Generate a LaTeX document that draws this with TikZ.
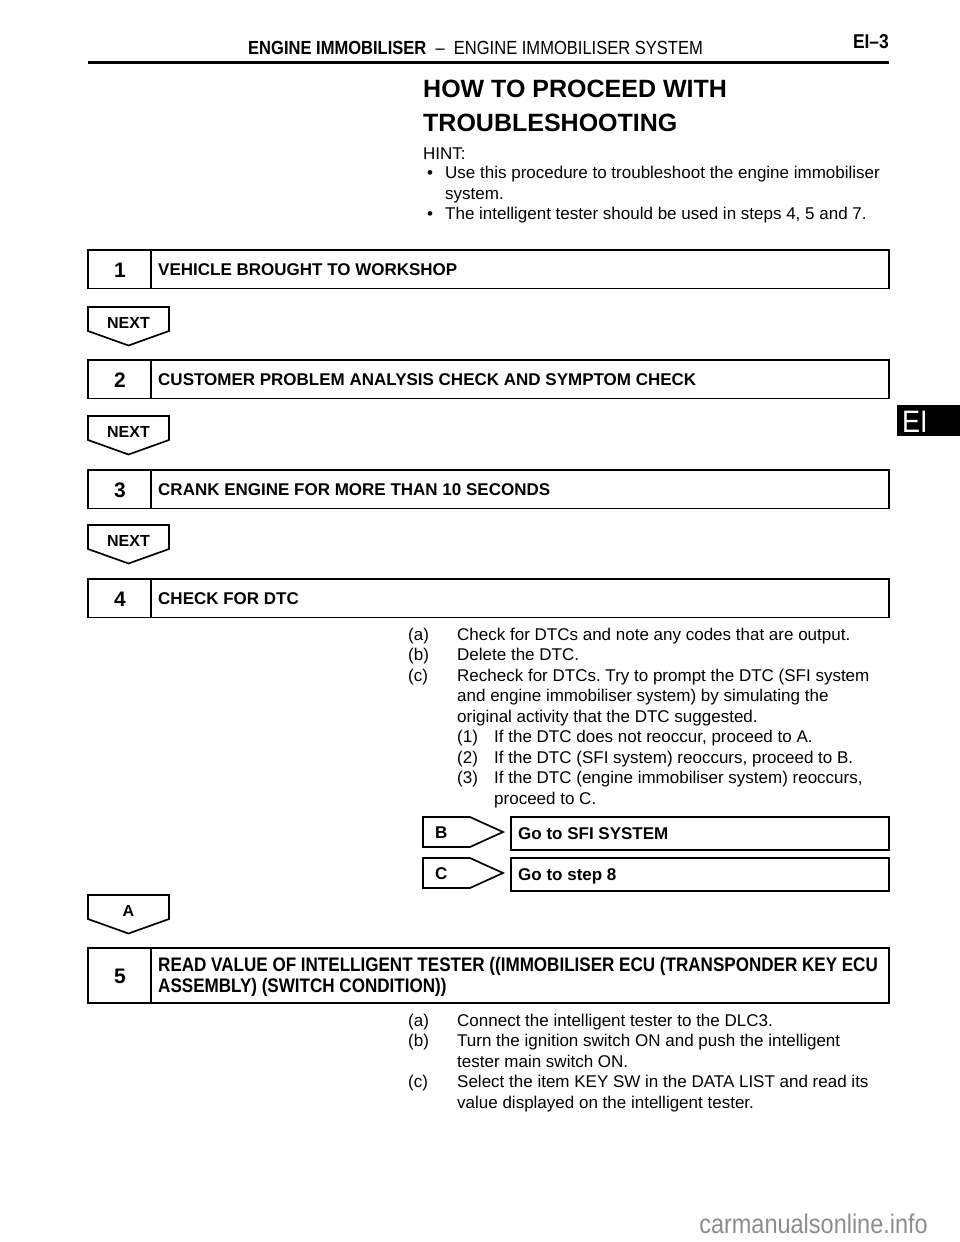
\documentclass[tikz,border=0pt]{standalone}
\usepackage{fontspec}
\setmainfont{Liberation Sans}
\newfontfamily\narrowfont[FakeStretch=0.87]{Liberation Sans}
\frenchspacing

\tikzset{
    frame/.style = {line width=1.7pt},
    body/.style = {anchor=base west, inner sep=0pt, font=\fontsize{17}{20.5}\selectfont},
    boxtext/.style = {anchor=base west, inner sep=0pt, font=\bfseries\fontsize{17}{20.5}\selectfont},
    widetext/.style = {anchor=base west, inner sep=0pt, font=\narrowfont\bfseries\fontsize{19.6}{21}\selectfont},
    stepnum/.style = {anchor=base, inner sep=0pt, font=\bfseries\fontsize{21}{24}\selectfont},
    nexttext/.style = {anchor=base, inner sep=0pt, font=\bfseries\fontsize{16}{18}\selectfont},
}

\begin{document}
\begin{tikzpicture}[x=1pt, y=-1pt]
    \useasboundingbox (0,0) rectangle (960,1242);

    % page header
    \draw[line width=3pt] (88,62) -- (889,62);
    \node[anchor=base west, inner sep=0pt, font=\narrowfont\fontsize{19}{21}\selectfont] (head) at (248,54)
        {\textbf{ENGINE IMMOBILISER} \ – \ ENGINE IMMOBILISER SYSTEM};
    \node[anchor=base east, inner sep=0pt, font=\narrowfont\bfseries\fontsize{20}{22}\selectfont] (pagenum) at (889,48) {EI–3};

    % side tab
    \fill (897,405) rectangle (960,436);
    \node[anchor=base west, inner sep=0pt, text=white, font=\narrowfont\fontsize{31}{32}\selectfont] (tab) at (902,432) {EI};

    % title and hint
    \node[anchor=base west, inner sep=0pt, font=\bfseries\fontsize{25}{30}\selectfont] (title1) at (423,97) {HOW TO PROCEED WITH};
    \node[anchor=base west, inner sep=0pt, font=\bfseries\fontsize{25}{30}\selectfont] (title2) at (423,131) {TROUBLESHOOTING};
    \node[body] (hint) at (423,159) {HINT:};
    \foreach \b/\t [count=\k] in {•/{Use this procedure to troubleshoot the engine immobiliser}, {}/{system.}, •/{The intelligent tester should be used in steps 4, 5 and 7.}}
    {
        \node[body] (bul\k) at (427,158+20.5*\k) {\b};
        \node[body] (hint\k) at (445,158+20.5*\k) {\t};
    }

    % steps 1 to 4
    \foreach \n/\y/\t in {1/250/{VEHICLE BROUGHT TO WORKSHOP}, 2/360/{CUSTOMER PROBLEM ANALYSIS CHECK AND SYMPTOM CHECK}, 3/470/{CRANK ENGINE FOR MORE THAN 10 SECONDS}, 4/579/{CHECK FOR DTC}}
    {
        \draw[frame] (88,\y) rectangle (889,\y+38.5);
        \draw[frame] (151,\y) -- (151,\y+38.5);
        \node[stepnum] (num\n) at (120,\y+27) {\n};
        \node[boxtext] (step\n) at (158,\y+25.5) {\t};
    }

    % NEXT and A arrows
    \foreach \y/\l [count=\k] in {307/NEXT, 416/NEXT, 525/NEXT, 895/A}
    {
        \draw[frame] (88,\y) -- (169,\y) -- (169,\y+24) -- (128.5,\y+38.5) -- (88,\y+24) -- cycle;
        \node[nexttext] (next\k) at (128.5,\y+21) {\l};
    }

    % step 4 text
    \foreach \lx/\lab/\x/\t [count=\k] in {
        408/(a)/457/{Check for DTCs and note any codes that are output.},
        408/(b)/457/{Delete the DTC.},
        408/(c)/457/{Recheck for DTCs. Try to prompt the DTC (SFI system},
        408/{}/457/{and engine immobiliser system) by simulating the},
        408/{}/457/{original activity that the DTC suggested.},
        457/(1)/494/{If the DTC does not reoccur, proceed to A.},
        457/(2)/494/{If the DTC (SFI system) reoccurs, proceed to B.},
        457/(3)/494/{If the DTC (engine immobiliser system) reoccurs,},
        457/{}/494/{proceed to C.}}
    {
        \node[body] (dtclab\k) at (\lx,619.5+20.5*\k) {\lab};
        \node[body] (dtc\k) at (\x,619.5+20.5*\k) {\t};
    }

    % B and C branches
    \foreach \l/\y/\t in {B/817/{Go to SFI SYSTEM}, C/858/{Go to step 8}}
    {
        \draw[frame] (423,\y) -- (470,\y) -- (503,\y+15) -- (470,\y+30) -- (423,\y+30) -- cycle;
        \node[boxtext] (res\l) at (435,\y+21) {\l};
        \draw[frame] (511,\y) rectangle (889,\y+33);
        \node[boxtext] (go\l) at (518,\y+22.5) {\t};
    }

    % step 5
    \draw[frame] (88,948) rectangle (889,1003);
    \draw[frame] (151,948) -- (151,1003);
    \node[stepnum] (num5) at (120,983) {5};
    \node[widetext] (step5a) at (158,971) {READ VALUE OF INTELLIGENT TESTER ((IMMOBILISER ECU (TRANSPONDER KEY ECU};
    \node[widetext] (step5b) at (158,992) {ASSEMBLY) (SWITCH CONDITION))};

    \foreach \lab/\t [count=\k] in {
        (a)/{Connect the intelligent tester to the DLC3.},
        (b)/{Turn the ignition switch ON and push the intelligent},
        {}/{tester main switch ON.},
        (c)/{Select the item KEY SW in the DATA LIST and read its},
        {}/{value displayed on the intelligent tester.}}
    {
        \node[body] (datlab\k) at (408,1005.5+20.5*\k) {\lab};
        \node[body] (dat\k) at (457,1005.5+20.5*\k) {\t};
    }

    % watermark
    \node[anchor=base east, inner sep=0pt, text=black!45, font=\narrowfont\fontsize{27}{29}\selectfont] (site) at (928,1233) {carmanualsonline.info};
\end{tikzpicture}
\end{document}
